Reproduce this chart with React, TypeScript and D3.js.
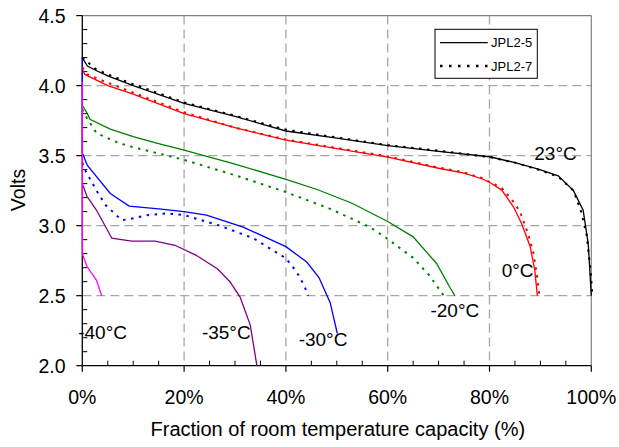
import React from "react";
import * as d3 from "d3";

type Pt = [number, number];

// x: fraction of room temperature capacity (%), y: volts
const c23Solid: Pt[] = [[0,4.2],[1,4.14],[2.6,4.11],[5,4.07],[10,4.0],[20,3.874],[30,3.78],[40,3.676],[50,3.625],[60,3.571],[70,3.53],[80,3.492],[85,3.45],[89.6,3.404],[93.5,3.356],[96.5,3.25],[98.4,3.11],[99.4,2.87],[100,2.5]];
const c23Dotted: Pt[] = [[0,4.2],[2.6,4.12],[5,4.08],[10,4.01],[20,3.88],[30,3.785],[40,3.685],[50,3.63],[60,3.575],[70,3.535],[80,3.49],[85,3.45],[89.6,3.40],[93.5,3.35],[96.5,3.25],[98,3.1],[99.1,2.93],[99.9,2.66],[100.2,2.5]];
const c0Solid: Pt[] = [[0,4.12],[0.5,4.08],[5,4.0],[10,3.94],[20,3.80],[30,3.70],[40,3.61],[50,3.55],[60,3.49],[70,3.41],[75,3.375],[78.5,3.335],[80,3.31],[82.4,3.254],[84.7,3.135],[86.3,3.016],[88,2.85],[88.9,2.68],[89.4,2.5]];
const c0Dotted: Pt[] = [[0,4.13],[1,4.08],[5,4.02],[10,3.95],[20,3.81],[30,3.70],[40,3.615],[50,3.555],[60,3.495],[70,3.415],[75,3.38],[78.5,3.34],[82.4,3.27],[84.7,3.17],[86,3.1],[87.5,2.95],[88.6,2.81],[89.3,2.65],[89.8,2.5]];
const cM20Solid: Pt[] = [[0,3.86],[1,3.80],[1.5,3.76],[5.5,3.69],[10,3.635],[14.6,3.59],[20,3.54],[30,3.44],[40,3.33],[46,3.26],[53,3.16],[60,3.03],[65,2.92],[69.6,2.73],[72.2,2.56],[73.2,2.5]];
const cM20Dotted: Pt[] = [[0,3.83],[0.5,3.79],[2.8,3.66],[7.2,3.59],[10,3.56],[20,3.47],[30,3.36],[40,3.24],[48.7,3.12],[56.5,2.99],[59.8,2.91],[65,2.77],[68.3,2.64],[71,2.5]];
const cM30Solid: Pt[] = [[0,4.2],[0,3.52],[1,3.43],[5.5,3.23],[9.2,3.14],[15,3.12],[20,3.10],[24.4,3.076],[31.6,2.99],[40,2.85],[44.1,2.74],[46.5,2.63],[48.7,2.45],[50.1,2.23]];
const cM30Dotted: Pt[] = [[0,3.45],[0.5,3.40],[2.8,3.25],[4.5,3.15],[7.7,3.04],[9,3.045],[12.7,3.075],[16.6,3.088],[20,3.076],[27,3.0],[33.6,2.91],[40,2.767],[42.1,2.67],[43.5,2.58],[44.4,2.5]];
const cM35Solid: Pt[] = [[0,3.30],[0.9,3.21],[2.8,3.11],[5.8,2.91],[9.7,2.89],[14.3,2.89],[18.2,2.86],[22.3,2.79],[26.6,2.69],[29,2.6],[31,2.49],[33,2.29],[34.3,2.0]];
const cM40Solid: Pt[] = [[0,4.03],[0,2.8],[0.9,2.71],[2.8,2.61],[3.8,2.5]];

const xTicks = [0, 20, 40, 60, 80, 100];
const yTicks = [2.0, 2.5, 3.0, 3.5, 4.0, 4.5];
const legendNames = ["JPL2-5", "JPL2-7"];
const tempLabels = ["23°C", "0°C", "-20°C", "-30°C", "-35°C", "-40°C"];
const tempLabelPos: Pt[] = [[88.8, 3.47], [82.4, 2.63], [68.4, 2.35], [42.5, 2.14], [23.5, 2.19], [-0.8, 2.19]];

const FONT = "'Liberation Sans', Arial, sans-serif";

export default function App() {
  const W = 619, H = 447;
  const x = d3.scaleLinear().domain([0, 100]).range([82.3, 591.3]);
  const y = d3.scaleLinear().domain([2.0, 4.5]).range([365.7, 15.6]);
  const line = d3.line<Pt>().x(d => x(d[0])).y(d => y(d[1]));

  const series = [
    { d: c23Solid, c: "#000000", dot: false },
    { d: c0Solid, c: "#ff0000", dot: false },
    { d: cM20Solid, c: "#008000", dot: false },
    { d: cM35Solid, c: "#800080", dot: false },
    { d: cM30Solid, c: "#0000ff", dot: false },
    { d: c23Dotted, c: "#000000", dot: true },
    { d: c0Dotted, c: "#ff0000", dot: true },
    { d: cM20Dotted, c: "#008000", dot: true },
    { d: cM30Dotted, c: "#0000ff", dot: true },
    { d: cM40Solid, c: "#ff00ff", dot: false },
  ];

  const xMinor = d3.range(0, 100.01, 5).filter(v => v % 20 !== 0);
  const yMinor = d3.range(2.0, 4.501, 0.1).filter(v => Math.abs(v * 2 - Math.round(v * 2)) > 0.01);

  const x0 = x(0), x1 = x(100), yb = y(2.0), yt = y(4.5);

  return (
    <svg width={W} height={H} style={{ position: "absolute", left: 0, top: 0, background: "#fff" }} fontFamily={FONT}>
      <rect x={0} y={0} width={W} height={H} fill="#fff" />
      {/* grid */}
      {xTicks.filter(v => v > 0 && v < 100).map(v => (
        <line key={"gx" + v} x1={x(v)} x2={x(v)} y1={yt} y2={yb} stroke="#a6a6a6" strokeWidth={1.3} strokeDasharray="9,5" />
      ))}
      {yTicks.filter(v => v > 2 && v < 4.5).map(v => (
        <line key={"gy" + v} x1={x0} x2={x1} y1={y(v)} y2={y(v)} stroke="#a6a6a6" strokeWidth={1.3} strokeDasharray="9,5" />
      ))}
      {/* frame top/right */}
      <line x1={x0} x2={x1} y1={yt} y2={yt} stroke="#808080" strokeWidth={1.2} />
      <line x1={x1} x2={x1} y1={yt} y2={yb} stroke="#808080" strokeWidth={1.2} />

      {/* axes */}
      <line x1={x0} x2={x0} y1={yt} y2={yb} stroke="#000" strokeWidth={1.3} />
      <line x1={x0} x2={x1} y1={yb} y2={yb} stroke="#000" strokeWidth={1.3} />
      {yTicks.map(v => (
        <g key={"yt" + v}>
          <line x1={x0 - 6} x2={x0} y1={y(v)} y2={y(v)} stroke="#000" strokeWidth={1.2} />
          <text x={65.5} y={y(v)} dy="0.36em" textAnchor="end" fontSize={19.5} fill="#000">{v.toFixed(1)}</text>
        </g>
      ))}
      {yMinor.map(v => (
        <line key={"ym" + v} x1={x0} x2={x0 + 5} y1={y(v)} y2={y(v)} stroke="#000" strokeWidth={1} />
      ))}
      {xTicks.map(v => (
        <g key={"xt" + v}>
          <line x1={x(v)} x2={x(v)} y1={yb} y2={yb + 6} stroke="#000" strokeWidth={1.2} />
          <text x={x(v)} y={403.5} textAnchor="middle" fontSize={19.5} fill="#000">{v + "%"}</text>
        </g>
      ))}
      {xMinor.map(v => (
        <line key={"xm" + v} x1={x(v)} x2={x(v)} y1={yb - 5} y2={yb} stroke="#000" strokeWidth={1} />
      ))}

      {/* curves */}
      {series.map((s, i) => (
        <path key={"s" + i} d={line(s.d) || ""} fill="none" stroke={s.c}
          strokeWidth={s.dot ? 2 : 1.3} strokeDasharray={s.dot ? "2.5,5.5" : undefined} />
      ))}

      {/* axis titles */}
      <text x={(x0 + x1) / 2 + 1} y={436} textAnchor="middle" fontSize={20} fill="#000">Fraction of room temperature capacity (%)</text>
      <text transform="translate(25,190) rotate(-90)" textAnchor="middle" fontSize={19.5} fill="#000">Volts</text>

      {/* temperature labels */}
      {tempLabels.map((t, i) => (
        <text key={"tl" + i} x={x(tempLabelPos[i][0])} y={y(tempLabelPos[i][1])} fontSize={19} fill="#000">{t}</text>
      ))}

      {/* legend */}
      <rect x={435} y={29.3} width={102.3} height={49} fill="#fff" stroke="#000" strokeWidth={1} />
      <line x1={440} x2={487.7} y1={42.7} y2={42.7} stroke="#000" strokeWidth={1.3} />
      <line x1={440} x2={487.7} y1={66} y2={66} stroke="#000" strokeWidth={2.3} strokeDasharray="2.5,6.5" />
      <text x={491} y={47} fontSize={13} fill="#000">{legendNames[0]}</text>
      <text x={491} y={70.5} fontSize={13} fill="#000">{legendNames[1]}</text>
    </svg>
  );
}
